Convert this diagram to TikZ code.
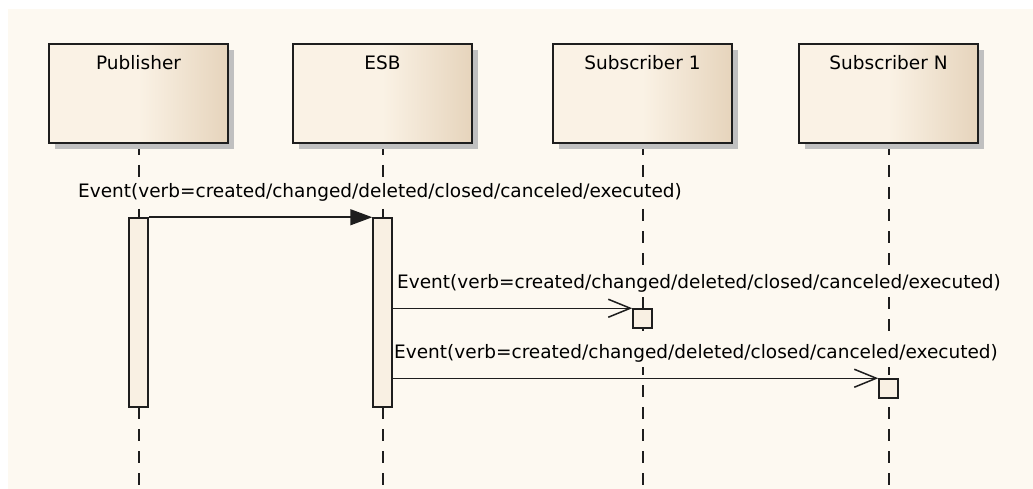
\documentclass[tikz,border=0pt]{standalone}
\usepackage{fontspec}
\newfontfamily\umlfont{DejaVu Sans}
\usepackage{xcolor}
\usepackage{tikz}
\usetikzlibrary{arrows.meta,positioning,shadows}

\definecolor{bgcream}{RGB}{253,249,241}
\definecolor{boxlight}{RGB}{250,242,229}
\definecolor{boxdark}{RGB}{230,212,188}
\definecolor{actfill}{RGB}{249,240,227}
\definecolor{shadowgray}{RGB}{192,192,192}
\definecolor{umlline}{RGB}{30,30,30}

\begin{document}
\begin{tikzpicture}[x=1pt, y=-1pt,
    lifebox/.style={rectangle, minimum width=179pt, minimum height=99pt, draw=umlline, line width=1.6pt,
        left color=boxlight, right color=boxdark, middle color=boxlight,
        drop shadow={shadow xshift=6pt, shadow yshift=-6pt, fill=shadowgray, opacity=1}},
    boxtitle/.style={font=\umlfont\fontsize{18.5}{20}\selectfont, inner sep=0pt, anchor=north},
    lifeline/.style={draw=umlline, line width=1.5pt, dash pattern=on 12pt off 10pt},
    actbar/.style={rectangle, draw=umlline, line width=1.5pt, fill=actfill, minimum width=19pt, inner sep=0pt},
    msglabel/.style={font=\umlfont\fontsize{18.5}{20}\selectfont, fill=bgcream, inner xsep=2pt, inner ysep=5.5pt, anchor=base west},
    syncmsg/.style={draw=umlline, line width=1.5pt, -{Triangle[length=22pt,width=16pt]}},
    asyncmsg/.style={draw=umlline, line width=1.5pt, -{Straight Barb[length=22pt,width=18pt]}}
]
\useasboundingbox (0,0) rectangle (1033,489);
\fill[bgcream] (8,9) rectangle (1033,489);
% LIFELINES
\coordinate (pubend) at (139,489);
\coordinate (esbend) at (383,489);
\coordinate (subaend) at (643,489);
\coordinate (subnend) at (889,489);
\draw[lifeline] (139,143) -- (pubend);
\draw[lifeline] (383,143) -- (esbend);
\draw[lifeline] (643,143) -- (subaend);
\draw[lifeline] (889,143) -- (subnend);
% HEADS
\node[lifebox] (pub) at (138.5,93.5) {};
\node[lifebox] (esb) at (382.5,93.5) {};
\node[lifebox] (suba) at (642.5,93.5) {};
\node[lifebox] (subn) at (888.5,93.5) {};
\node[boxtitle, below=12pt of pub.north] (pubtitle) {Publisher};
\node[boxtitle, below=12pt of esb.north] (esbtitle) {ESB};
\node[boxtitle, below=12pt of suba.north] (subatitle) {Subscriber 1};
\node[boxtitle, below=12pt of subn.north] (subntitle) {Subscriber N};
% MESSAGE LABELS (they hide the lifelines behind them)
\node[msglabel] (ev1) at (76,197) {Event(verb=created/changed/deleted/closed/canceled/executed)};
\node[msglabel] (ev2) at (395,288) {Event(verb=created/changed/deleted/closed/canceled/executed)};
\node[msglabel] (ev3) at (392,358) {Event(verb=created/changed/deleted/closed/canceled/executed)};
% ACTIVATIONS
\node[actbar, minimum height=189pt] (pubact) at (138.5,312.5) {};
\node[actbar, minimum height=189pt] (esbact) at (382.5,312.5) {};
\node[actbar, minimum height=19pt] (subaact) at (642.5,318.5) {};
\node[actbar, minimum height=19pt] (subnact) at (888.5,388.5) {};
% MESSAGES
\draw[syncmsg] (pubact.north east) -- (esbact.north west);
\draw[asyncmsg] (esbact.east |- subaact.north) -- (subaact.north west);
\draw[asyncmsg] (esbact.east |- subnact.north) -- (subnact.north west);
\end{tikzpicture}
\end{document}
